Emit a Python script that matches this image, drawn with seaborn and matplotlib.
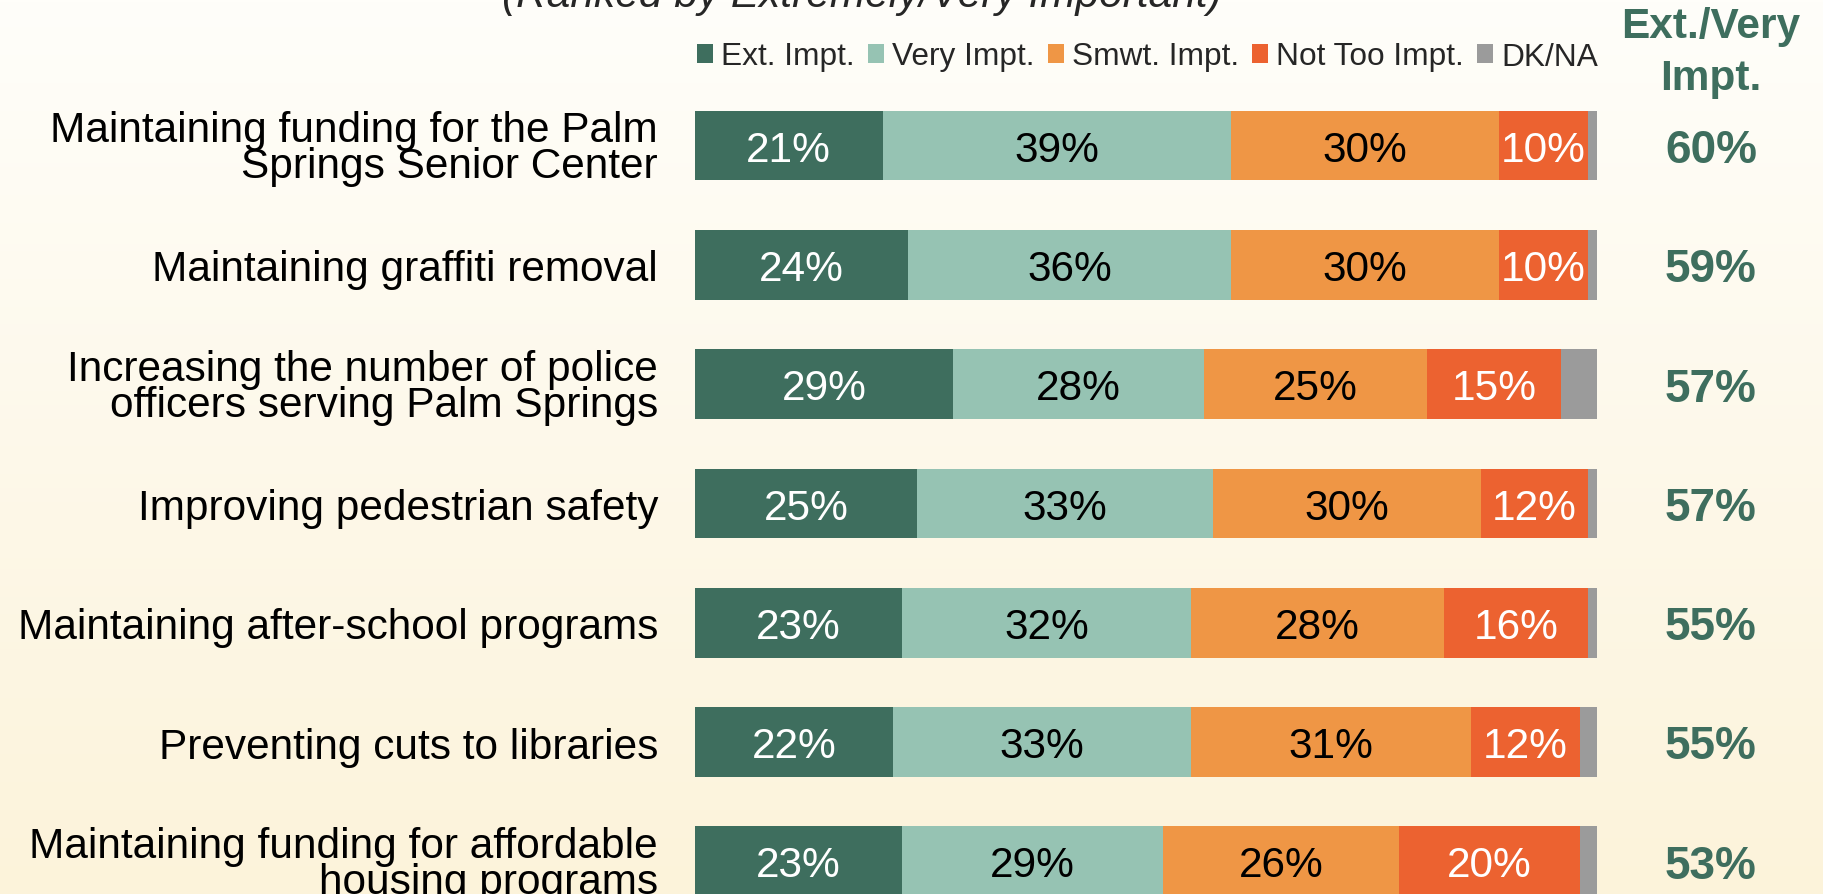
import numpy as np
import pandas as pd
import matplotlib
matplotlib.use("Agg")
import matplotlib.pyplot as plt
from matplotlib.patches import Patch
from matplotlib import transforms
import seaborn as sns

# data
items = [
    "Maintaining funding for the Palm\nSprings Senior Center",
    "Maintaining graffiti removal",
    "Increasing the number of police\nofficers serving Palm Springs",
    "Improving pedestrian safety",
    "Maintaining after-school programs",
    "Preventing cuts to libraries",
    "Maintaining funding for affordable\nhousing programs",
]
ext_impt = [20.8, 23.6, 28.6, 24.6, 23.0, 22.0, 23.0]
very_impt = [38.6, 35.8, 27.8, 32.8, 32.0, 33.0, 28.9]
smwt_impt = [29.7, 29.7, 24.8, 29.7, 28.0, 31.0, 26.1]
not_too_impt = [9.9, 9.9, 14.8, 11.9, 16.0, 12.1, 20.1]
dk_na = [1.0, 1.0, 4.0, 1.0, 1.0, 1.9, 1.9]
ext_very_total = [60, 59, 57, 57, 55, 55, 53]

series_names = ["Ext. Impt.", "Very Impt.", "Smwt. Impt.", "Not Too Impt.", "DK/NA"]
colors = ["#3E6E5E", "#96C3B3", "#EF9645", "#EC6230", "#9B9B9B"]
text_colors = ["white", "black", "black", "white", None]
green = "#3E6E5E"

df = pd.DataFrame({
    "item": items,
    "Ext. Impt.": ext_impt,
    "Very Impt.": very_impt,
    "Smwt. Impt.": smwt_impt,
    "Not Too Impt.": not_too_impt,
    "DK/NA": dk_na,
})

sns.set_style("white")
plt.rcParams["font.family"] = ["Liberation Sans", "DejaVu Sans"]

W, H = 1823, 895
fig = plt.figure(figsize=(W / 100, H / 100), dpi=100)

# background gradient
bg = fig.add_axes([0, 0, 1, 1], zorder=-1)
top = np.array([255, 254, 250]) / 255
bottom = np.array([252, 243, 218]) / 255
t = np.linspace(0, 1, 256)[:, None, None]
grad = top * (1 - t) + bottom * t
bg.imshow(grad, aspect="auto", extent=[0, 1, 0, 1])
bg.axis("off")

ax = fig.add_axes([695 / W, 0, 902 / W, 1])
ax.set_facecolor("none")

row_step = 119.3  # px per category
lab_fs = 30.5
half_cap = 0.716 * lab_fs * 100 / 72 / 2 / row_step

left = np.zeros(len(items))
for name, col, tc in zip(series_names, colors, text_colors):
    vals = df[name].to_numpy()
    sns.barplot(data=df, x=name, y="item", order=items, color=col, width=0.585,
                left=left, orient="h", ax=ax, saturation=1, errorbar=None,
                edgecolor="none", linewidth=0)
    if tc:
        for i, v in enumerate(vals):
            ax.text(left[i] + v / 2, i + half_cap, f"{v:.0f}%", ha="center",
                    va="baseline", fontsize=lab_fs, color=tc)
    left = left + vals

ax.set_xlim(0, 100)
ax.set_ylim(6.274, -1.228)
ax.set_xlabel("")
ax.set_ylabel("")
ax.set_xticks([])
sns.despine(ax=ax, left=True, bottom=True)
ax.tick_params(axis="y", length=0, pad=26.6, labelsize=lab_fs, colors="black")
for lab in ax.get_yticklabels():
    lab.set_linespacing(0.88)

# right column totals
tot_fs = 33
trans = transforms.blended_transform_factory(fig.transFigure, ax.transData)
for i, v in enumerate(ext_very_total):
    ax.text(1711 / W, i + 0.716 * tot_fs * 100 / 72 / 2 / row_step, f"{v}%",
            transform=trans, ha="center", va="baseline",
            fontsize=tot_fs, fontweight="bold", color=green)
fig.text(1711 / W, 1 - 53 / H, "Ext./Very\nImpt.", ha="center", va="center",
         fontsize=30.5, fontweight="bold", color=green, linespacing=1.37)

# title (cut by top edge in the original)
fig.text(862 / W, 1 - 7 / H, "(Ranked by Extremely/Very Important)", ha="center",
         va="baseline", fontsize=30.5, style="italic")

handles = [Patch(facecolor=c, edgecolor="none") for c in colors]
fig.legend(handles, series_names, loc="center left",
           bbox_to_anchor=(697 / W, 1 - 57.5 / H), ncol=5, frameon=False,
           fontsize=22.8, handlelength=0.5, handleheight=0.52,
           handletextpad=0.26, columnspacing=0.42, borderpad=0, borderaxespad=0)

fig.savefig("out.png", dpi=100)
